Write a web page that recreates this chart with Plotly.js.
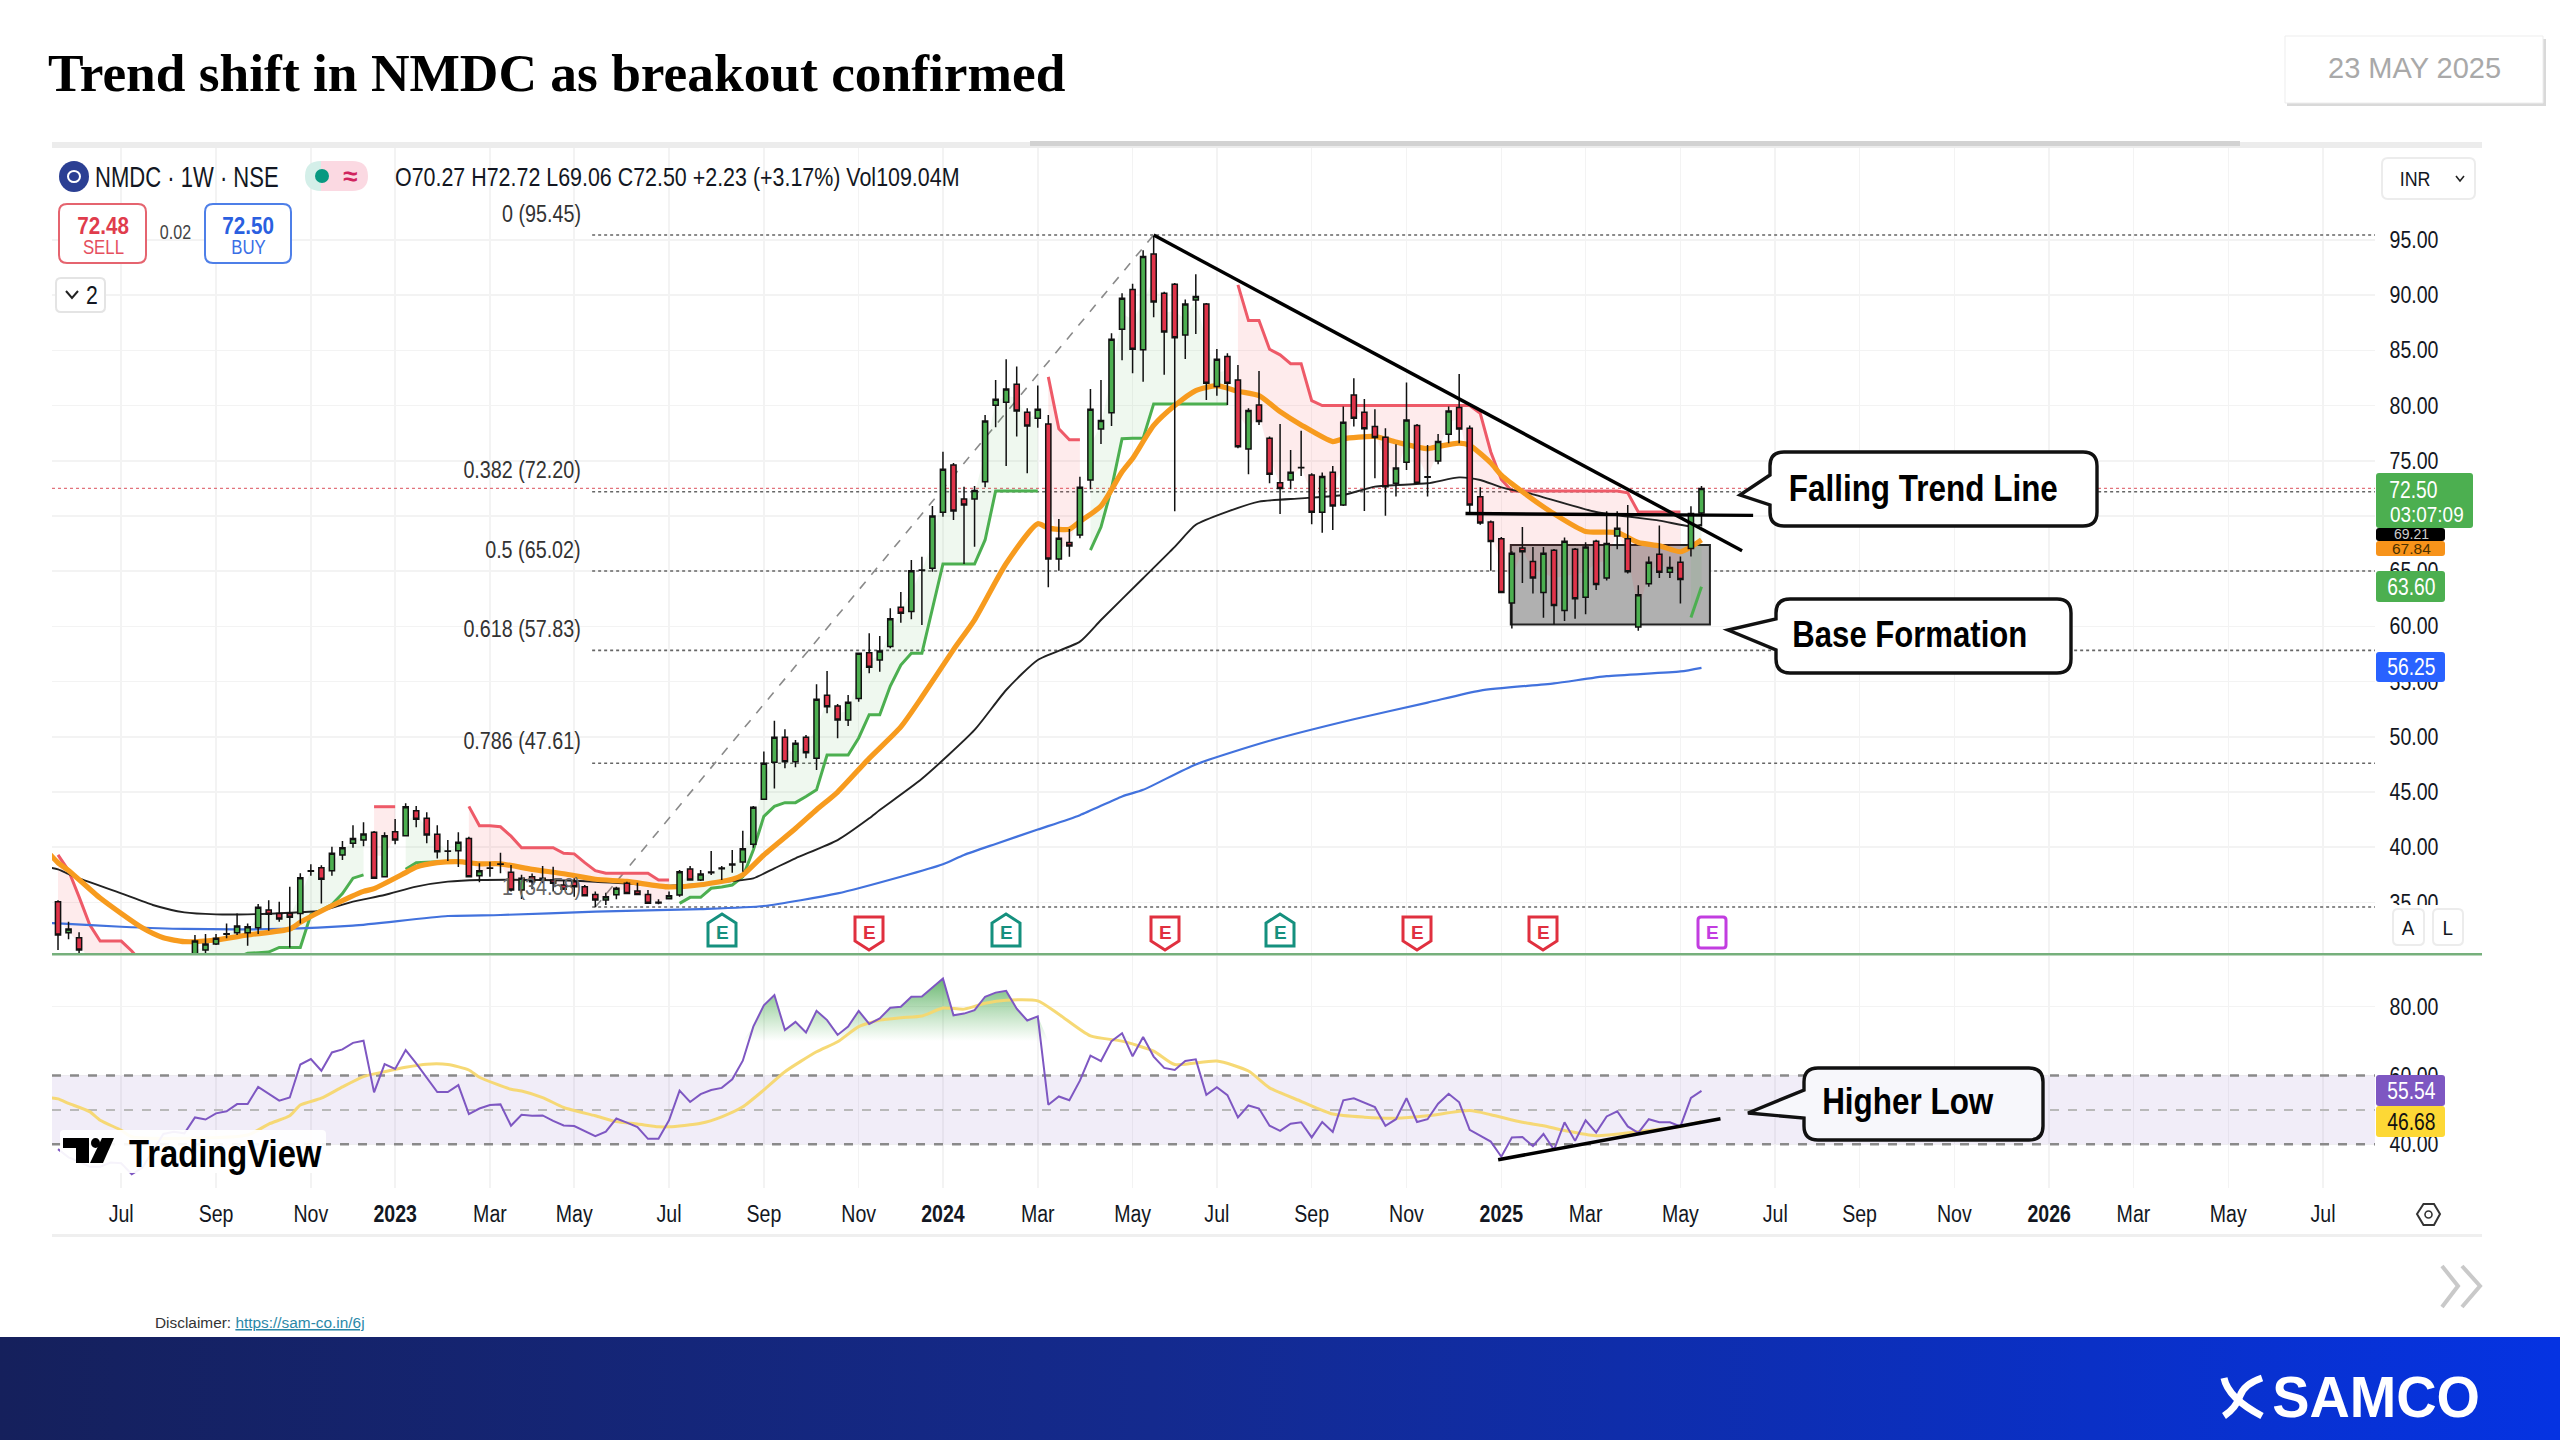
<!DOCTYPE html>
<html><head><meta charset="utf-8">
<script src="https://cdn.plot.ly/plotly-3.0.1.min.js"></script>
<style>
html,body{margin:0;padding:0;background:#fff;width:2560px;height:1440px;overflow:hidden}
#banner{position:absolute;left:0;top:1337px;width:2560px;height:103px;background:linear-gradient(90deg,#15205c 0%,#142a8e 45%,#0533e2 100%)}
#chart{position:absolute;left:0;top:0;width:2560px;height:1440px}
</style></head><body>
<div id="banner"></div><div id="chart"></div>
<script>
// ---------- weekly bars (first bar = week of 2022-05-23) ----------
const firstWeek = '2022-05-23';
const opens = [35.07,32.26,31.81,30.0,29.4,28.9,28.4,28.9,29.2,29.6,29.0,29.5,29.3,29.9,30.69,31.24,32.11,32.26,32.26,32.71,34.31,34.0,34.0,34.0,37.82,38.15,37.88,39.3,40.35,40.65,41.35,37.33,41.41,41.05,43.31,42.62,41.17,39.63,39.69,40.8,37.42,38.09,38.45,37.73,36.13,37.33,37.18,37.03,36.58,36.88,36.43,35.73,35.22,35.70,36.73,36.04,35.73,35.01,35.34,35.67,38.03,37.03,37.76,38.06,38.39,38.66,40.26,44.34,47.69,49.95,47.75,49.95,48.05,53.76,52.79,51.52,53.48,57.62,56.96,58.17,61.73,61.34,65.09,65.26,70.33,74.62,71.54,71.54,73.11,80.03,80.3,81.93,79.39,78.85,78.34,66.11,67.59,68.28,73.26,77.88,79.36,86.92,90.51,85.05,93.72,90.17,90.99,86.4,89.57,89.2,81.72,84.44,82.32,76.07,80.06,77.04,73.02,73.27,74.37,73.72,70.34,73.96,71.0,80.96,79.39,78.1,77.13,72.96,74.87,78.19,73.5,74.99,77.4,79.82,77.94,71.75,69.45,67.93,62.12,67.1,65.89,63.07,66.89,61.43,66.98,62.64,67.71,64.38,68.19,67.93,59.95,63.86,66.54,64.9,65.81,67.06,70.27];
const highs = [35.2,33.26,32.29,30.2,30.0,29.6,29.2,29.8,30.0,30.1,29.9,30.1,30.0,32.05,32.14,32.14,33.1,34.0,33.1,34.86,35.2,35.07,36.43,37.64,38.45,38.36,40.05,40.56,42.0,42.26,41.47,41.35,42.56,43.98,43.74,43.16,42.0,40.65,41.35,40.96,38.54,38.69,39.5,38.39,37.5,37.63,38.3,38.24,37.03,37.18,36.58,35.98,35.88,36.43,36.88,36.79,36.13,35.28,35.98,37.94,38.3,37.94,39.66,38.3,39.75,41.5,43.74,48.66,51.46,50.68,49.71,50.17,54.75,55.96,52.97,53.79,57.62,59.37,59.13,61.64,63.12,66.02,66.32,70.91,75.83,74.8,72.66,72.72,79.15,82.32,84.19,83.53,79.75,81.81,79.15,69.73,68.82,73.56,81.51,82.32,86.55,90.17,91.03,94.07,95.37,90.3,91.1,89.6,91.89,89.3,85.13,84.74,83.68,79.76,83.14,77.19,78.34,75.98,77.73,73.87,73.93,74.53,79.91,82.47,80.6,79.67,77.94,76.5,82.08,78.34,76.43,77.43,79.91,82.87,78.19,72.6,69.6,68.1,66.8,69.0,67.2,67.2,67.0,68.06,67.1,67.63,67.84,70.44,70.44,71.0,63.73,66.33,69.14,66.33,66.33,70.88,72.72];
const lows = [30.69,31.66,30.4,29.0,28.6,28.0,27.6,28.4,28.7,28.8,28.5,29.0,28.9,29.7,30.39,31.14,31.75,32.05,31.08,32.14,32.44,33.26,30.93,33.1,37.42,34.9,37.42,38.84,39.96,40.1,37.18,37.33,40.26,41.05,41.8,40.35,38.99,38.75,38.2,37.33,36.82,37.33,37.64,35.98,35.31,36.2,36.73,35.98,36.13,35.52,35.61,34.56,34.77,35.28,35.76,35.67,34.92,34.83,35.28,35.52,36.97,36.94,37.48,37.03,37.7,37.79,39.96,44.28,45.33,47.15,47.24,48.05,47.0,52.13,49.86,50.98,53.18,55.75,55.9,58.02,60.34,60.64,60.13,64.96,69.94,69.64,65.65,67.22,72.6,78.03,74.53,77.19,73.87,78.0,63.54,65.05,66.32,67.98,72.42,76.52,78.15,84.1,82.93,82.15,88.0,82.8,70.44,84.23,86.49,80.51,80.9,80.06,76.13,73.78,78.25,72.96,70.18,72.42,73.63,69.25,68.49,68.74,70.9,78.1,70.46,73.42,70.03,71.76,74.17,72.9,71.76,74.68,76.59,76.59,70.18,69.2,65.03,63.0,59.82,63.94,62.99,60.78,60.17,60.48,60.69,61.1,63.29,64.16,66.98,64.8,59.61,63.6,64.38,64.38,62.08,66.33,69.06];
const closes = [32.05,32.59,30.69,29.4,28.9,28.4,28.9,29.2,29.6,29.0,29.5,29.3,29.8,31.5,31.24,31.75,32.17,32.87,32.8,34.56,33.92,33.5,33.65,37.24,37.88,37.09,39.45,39.96,40.8,41.2,37.18,41.05,40.65,43.67,42.53,41.11,39.6,39.66,40.44,37.33,37.88,38.12,38.47,36.13,37.18,36.88,37.03,36.73,36.19,36.43,35.61,35.22,35.52,36.28,35.82,35.73,34.92,34.95,35.61,37.79,37.03,37.58,37.70,38.12,38.48,39.87,43.61,47.6,49.95,47.75,49.41,48.56,53.4,52.73,51.52,53.12,57.56,56.29,57.77,60.7,61.19,65.05,65.12,70.0,74.23,70.45,71.0,72.3,78.6,80.57,81.5,79.51,78.15,79.66,66.11,67.98,67.29,72.6,79.66,78.64,86.0,89.73,85.1,93.5,89.39,86.66,86.14,89.2,89.87,82.02,84.19,82.02,76.28,79.55,78.55,73.78,72.48,73.96,74.4,70.34,73.57,70.91,78.49,78.85,77.91,77.1,72.66,74.35,78.7,72.96,73.55,76.74,79.51,77.88,71.0,69.36,67.7,63.07,66.63,66.76,64.38,66.63,61.9,67.71,62.5,67.2,63.8,67.5,68.88,64.94,62.86,65.81,64.9,65.33,64.25,70.23,72.50];

// ---------- moving averages: bar number, value ----------
const ema20Bars = [-1,0,1,4,8,10,12,15,18,22,23,26,29,30,33,34,36,38,40,42,45,48,51,54,58,61,64,65,67,70,72,74,77,80,82,85,87,90,93,94,96,97,99,101,102,104,106,108,110,112,114,116,118,121,122,125,127,130,131,133,134,136,137,139,142,145,148,150,152,154,155,156];
const ema20Vals = [39.6,38.6,37.9,35.4,32.7,31.8,31.45,31.6,32.05,32.6,33.2,34.7,36.0,36.25,37.7,38.2,38.6,38.7,38.5,38.5,38.0,37.6,37.1,36.9,36.4,36.6,37.1,37.5,39.3,41.7,43.4,45.0,48.05,50.9,53.6,57.9,60.6,65.7,69.3,68.9,68.8,69.5,70.9,74.0,75.2,78.2,80.0,81.36,81.8,81.3,80.9,79.45,78.25,76.74,77.0,77.2,76.7,76.1,76.3,76.6,76.4,74.8,73.7,72.2,70.2,68.6,68.5,67.6,67.3,66.76,67.2,67.84];
const ema50Bars = [-1,0,1,2,6,9,12,15,18,22,25,28,31,34,37,40,46,51,58,64,66,68,70,74,77,78,82,87,90,93,97,99,103,106,108,111,114,118,122,125,130,133,135,137,140,146,152,155,156];
const ema50Vals = [38.2,38.0,37.58,37.18,35.82,34.77,34.1,33.92,33.92,34.07,34.25,35.07,35.67,36.43,36.88,37.03,37.03,36.88,36.52,36.94,37.18,38.09,39.0,40.65,42.62,43.37,46.2,50.62,54.24,56.96,58.62,60.58,64.36,67.2,69.2,70.39,71.3,71.6,71.9,72.66,72.96,73.5,73.26,72.6,71.96,70.36,69.58,69.06,69.21];
const ema200Bars = [-1,0,6,12,21,28,37,42,51,61,67,74,80,84,86,89,93,97,101,103,108,115,123,130,135,142,147,154,156];
const ema200Vals = [33.15,33.1,32.8,32.6,32.6,32.9,33.77,33.86,34.16,34.4,34.68,35.82,37.33,38.46,39.3,40.3,41.6,42.9,44.6,45.2,47.5,49.64,51.59,53.1,54.19,54.84,55.49,55.92,56.25];

// ---------- supertrend runs: first bar, values ----------
const stRedStarts = [0,30,39,94,112];
const stRed = [
 [39.3,37.9,35.5,33,31.5,31.5,31.5,30.6,29.5,29.4,29.3,29.2,29.1],
 [43.67,43.67,43.67],
 [43.7,41.95,41.95,41.85,41,39.96,39.96,39.96,39.96,39.45,39.4,38.6,37.88,37.64,37.64,37.64,37.64,37.64,37.03,37.03],
 [82.6,77.9,76.9,76.9],
 [90.93,87.7,87.7,85.1,84.6,83.8,83.8,80.45,80,80,80,80,80,80,80,80,80,80,80,80,80,80,80,79.3,75.8,73.3,72.27,72.27,72.27,72.27,72.27,72.27,72.27,72.27,72.27,72.27,72.27,72.1,70.36,70.36,70.36,70.36,70.36]
];
const stGreenStarts = [13,33,59,98,155];
const stGreen = [
 [29,29,29.2,29.6,30,30.4,30.45,30.5,30.93,30.93,30.93,33.9,34.3,34.8,35.8,37.2,37.5],
 [38,38.6,38.65,38.7,38.7,38.7],
 [34.92,35.46,35.46,36.28,36.4,36.58,37.33,39.75,42.8,43.7,44.04,44.04,44.6,45.2,48.35,48.35,48.35,49.9,52,52,54.6,56.5,57.56,57.56,61.5,65.65,65.65,65.65,65.65,67.83,72.27,72.27,72.27,72.27,72.27],
 [66.9,69,72.5,77,77.04,77.04,80.15,80.15,80.15,80.15,80.15,80.15,80.15,80.15],
 [60.8,63.6]
];

// ---------- RSI ----------
const rsi = [38.6,36.2,35,33.5,33.5,34.7,34.5,31.3,33.2,38,43,43.66,43.2,47.8,47.2,49,49.6,51.7,51.7,56.7,54.7,52.7,53.6,63.2,64.8,61.4,66.7,67.6,69.5,70.1,55.1,63.3,61.9,67.4,63.5,59.5,55.2,55.2,57.2,48.8,50.4,51.4,51.6,45.4,48.6,48.3,48.4,46.8,45.5,45.3,43.8,42.4,43.7,47.5,46.3,45,41.6,41.6,47,55.6,52.3,54.6,55.8,56.4,58.9,64.3,74.2,80.4,83.4,73.2,75.6,72.5,78.8,76.1,71.8,74.2,78.8,75,76.6,79.7,80,82.9,83,85.5,88.2,77.5,78,79,82.9,84.1,84.6,79.4,76,77.2,51.5,53.9,52.8,58.5,65.8,64.2,70,72.3,65.6,71.2,65.5,62.2,61.6,64.2,64.7,54.4,56.6,54.3,47.8,51.3,50.4,45.4,43.9,46,46.4,42,46.5,43.6,52.8,53.4,52,50.8,45.4,47.3,53.4,46.5,47.3,51.8,54.7,52.2,44.2,42.5,40.8,36.4,42,42.1,39.5,43,38.4,46.4,41,47,43.4,48.1,49.6,45.2,43.3,47.3,46.4,46.4,45.2,53.5,55.54];
const rsiMaBars = [-1,0,1,3,4,6,7,18,20,22,23,25,27,29,31,33,35,37,39,40,43,44,46,48,51,53,55,57,58,61,63,65,67,69,72,74,76,78,80,82,84,86,88,90,93,95,98,101,104,106,110,113,115,118,121,124,127,130,134,136,139,141,143,146,150,154,156];
const rsiMaVals = [53.6,53.2,51.9,49.5,47,44.1,42.2,42.7,45.9,48.3,51.4,53.4,56.7,59.7,61.1,62.4,63.3,63.2,61.6,59.5,56,55.5,53.6,50.7,48.3,46.6,45.9,45.1,45.1,46.1,48,50.9,55.8,61.1,66.9,69.8,74.2,76.1,76.8,77.3,79.6,79.3,81,81.9,81.7,77.8,71.5,70,67.1,63.2,64.2,61.3,56.4,52.5,48.8,47.9,47.6,48.3,49.8,48.6,46.4,45.4,44,42.5,43.7,45.2,46.68];

// ---------- axis labels ----------
const tickBars = [6,15,24,32,41,49,58,67,76,84,93,102,110,119,128,137,145,154,163,171,180,189,197,206,215];
const tickNames = ['Jul','Sep','Nov','<b>2023</b>','Mar','May','Jul','Sep','Nov','<b>2024</b>','Mar','May','Jul','Sep','Nov','<b>2025</b>','Mar','May','Jul','Sep','Nov','<b>2026</b>','Mar','May','Jul'];
const priceTicks = [35,40,45,50,55,60,65,70,75,80,85,90,95];
const priceTickHidden = [70];
const rsiTicks = [40,60,80];

// ---------- drawing levels ----------
const fibLevels = [95.45,72.20,65.02,57.83,47.61,34.58];
const fibNames = ['0 (95.45)','0.382 (72.20)','0.5 (65.02)','0.618 (57.83)','0.786 (47.61)','1 (34.58)'];
const fibLabelY = [214,470,550,629,741,887];
const lastPrice = 72.50;
const trendBars = [104,159.85], trendVals = [95.44,66.86];
const flatBars = [133.6,160.9], flatVals = [70.22,70.06];
const boxBars = [137.9,156.8], boxVals = [60.18,67.37];
const fibDiagBars = [51,104], fibDiagVals = [34.58,95.45];
const rsiLineBars = [136.7,157.8], rsiLineVals = [35.5,47.4];

// ---------- helpers ----------
const W=2560,H=1440,END=219.93;
const FN='"Liberation Sans",Arial,sans-serif';
const DAY=86400000, T0=Date.parse(firstWeek+'T00:00:00Z');
const D=i=>new Date(T0+i*7*DAY).toISOString().slice(0,19).replace('T',' ');
const dates=opens.map((_,i)=>D(i));
const fx=x=>x/W, fy=y=>1-y/H;
const P=(...a)=>{let s='';for(const c of a){if(typeof c==='string')s+=c+' ';else s+=fx(c[0])+' '+fy(c[1])+' ';}return s;};
const shapes=[],ann=[],squeeze=[];
function rrectPath(x0,y0,x1,y1,r){return P('M',[x0+r,y0],'L',[x1-r,y0],'Q',[x1,y0],[x1,y0+r],'L',[x1,y1-r],'Q',[x1,y1],[x1-r,y1],'L',[x0+r,y1],'Q',[x0,y1],[x0,y1-r],'L',[x0,y0+r],'Q',[x0,y0],[x0+r,y0],'Z');}
function path(d,fill,color,width,layer){shapes.push({type:'path',xref:'paper',yref:'paper',path:d,fillcolor:fill,line:{color:color||'rgba(0,0,0,0)',width:width||0},layer:layer||'above'});}
function rect(x0,y0,x1,y1,fill,color,width,r){path(rrectPath(x0,y0,x1,y1,r||0.01),fill,color,width);}
function text(t,x,y,size,color,o){o=o||{};const xa=o.xa||'center';
  ann.push({text:t,x:fx(x),y:fy(y),xref:'paper',yref:'paper',showarrow:false,xanchor:xa,align:xa,yanchor:'middle',font:{family:o.font||FN,size,color,weight:o.bold?'bold':'normal'},borderpad:0,borderwidth:0});
  squeeze.push(o.s||1);}
function dline(b0,v0,b1,v1,color,width,dash,layer,yref,xref){shapes.push({type:'line',xref:xref||'x',yref:yref||'y',x0:D(b0),x1:D(b1),y0:v0,y1:v1,line:{color,width,dash:dash||'solid'},layer:layer||'above'});}
function circle(x0,y0,x1,y1,fill,lc,lw){shapes.push({type:'circle',xref:'paper',yref:'paper',x0:fx(x0),x1:fx(x1),y0:fy(y1),y1:fy(y0),fillcolor:fill,line:{color:lc||'rgba(0,0,0,0)',width:lw||0},layer:'above'});}

// page frame
rect(52,142,2482,148,'#ececec');
rect(1030,141,2240,146,'#d2d2d2');
rect(52,1234,2482,1237,'#efefef');
rect(52,953,2482,955.5,'#76b07c');

// title and date box
text('Trend shift in NMDC as breakout confirmed',48,73,53.4,'#000',{xa:'left',bold:true,font:'"Liberation Serif","Times New Roman",serif'});
rect(2287,39,2546,106,'#d9d9d9');
rect(2285,36,2543,103,'#ffffff','#ededed',1);
text('23 MAY 2025',2414,68,29,'#a9a9a9');

// header
circle(59,161,89,192,'#2b3f93');
circle(68,171,80,182,'rgba(0,0,0,0)','#fff',2);
text('NMDC · 1W · NSE',95,177,29,'#131722',{xa:'left',s:0.76});
path(P('M',[321,161],'L',[321,191],'Q',[305,191],[305,176],'Q',[305,161],[321,161],'Z'),'#d4efe9');
path(P('M',[321,161],'L',[352,161],'Q',[368,161],[368,176],'Q',[368,191],[352,191],'L',[321,191],'Z'),'#fbd9e2');
circle(315,169,329,183,'#089981');
text('≈',350,176,26,'#d0245e',{bold:true});
text('O70.27 H72.72 L69.06 C72.50 +2.23 (+3.17%) Vol109.04M',395,177,25.5,'#131722',{xa:'left',s:0.84});
rect(59,204,146,263,'#fff','#e5646f',2,8);
text('72.48',103,225,24,'#e03c4c',{bold:true,s:0.86});
text('SELL',103,247,20,'#e5505e',{s:0.84});
text('0.02',175,232,20,'#444',{s:0.8});
rect(205,204,291,263,'#fff','#4e7fe8',2,8);
text('72.50',248,225,24,'#2a5fe0',{bold:true,s:0.86});
text('BUY',248,247,20,'#3a6fe6',{s:0.84});
rect(56,278,105,312,'#fff','#e4e4e4',2,5);
path(P('M',[66,291],'L',[72,298],'L',[78,291]),'rgba(0,0,0,0)','#222',2);
text('2',92,295,25,'#131722',{s:0.85});
rect(2382,158,2475,199,'#fff','#ececec',2,6);
text('INR',2415,178,21,'#131722',{s:0.85});
path(P('M',[2456,176],'L',[2460,181],'L',[2464,176]),'rgba(0,0,0,0)','#222',1.6);

// fib
fibLevels.forEach((v,k)=>{dline(50.7,v,END,v,'#666',1.6,'dot','between');text(fibNames[k],581,fibLabelY[k],23.5,k==5?'#666':'#333',{xa:'right',s:0.84});});
dline(-0.57,lastPrice,END,lastPrice,'#e2737c',1.3,'dot','between');
dline(fibDiagBars[0],fibDiagVals[0],fibDiagBars[1],fibDiagVals[1],'#8a8a8a',1.6,'dash','between');

// base box, trend lines
shapes.push({type:'rect',xref:'x',yref:'y',x0:D(boxBars[0]),x1:D(boxBars[1]),y0:boxVals[0],y1:boxVals[1],fillcolor:'#b0b0b0',line:{color:'#222',width:2},layer:'between'});
dline(trendBars[0],trendVals[0],trendBars[1],trendVals[1],'#000',3.4);
dline(flatBars[0],flatVals[0],flatBars[1],flatVals[1],'#000',3.4);
dline(rsiLineBars[0],rsiLineVals[0],rsiLineBars[1],rsiLineVals[1],'#000',3.6,'solid','above','y2','x2');

// RSI band
shapes.push({type:'rect',xref:'x2',yref:'y2',x0:D(-0.57),x1:D(END),y0:40,y1:60,fillcolor:'rgba(126,87,194,0.11)',line:{width:0},layer:'between'});
[[60,'#8a8a8a',2.4],[50,'#b9b9b9',2],[40,'#8a8a8a',2.4]].forEach(l=>dline(-0.57,l[0],END,l[0],l[1],l[2],'dash','between','y2','x2'));

// earnings markers
const earnColor=['#15907e','#e0303f','#15907e','#e0303f','#15907e','#e0303f','#e0303f','#c23de0'];
const earnKind=['up','dn','up','dn','up','dn','dn','sq'];
const earnPx=[722,869,1006,1165,1280,1417,1543,1712];
earnPx.forEach((x,k)=>{
  const c=earnColor[k],a=x-14,b=x+14;
  if(earnKind[k]==='up') path(P('M',[x,914],'L',[b,923],'L',[b,946],'L',[a,946],'L',[a,923],'Z'),'#fff',c,3);
  else if(earnKind[k]==='dn') path(P('M',[a,917],'L',[b,917],'L',[b,941],'L',[x,950],'L',[a,941],'Z'),'#fff',c,3);
  else rect(a,917,b,948,'#fff',c,3,3);
  text('E',x,932,19,c,{bold:true});
});

// right-side covers and price tags
rect(2377,905,2482,952,'#fff');
rect(2393,909,2424,945,'#fff','#ececec',2,5);text('A',2408,927,21,'#131722',{s:0.9});
rect(2433,909,2463,945,'#fff','#ececec',2,5);text('L',2448,927,21,'#131722',{s:0.9});
function tag(x1,y0,y1,fill){rect(2376,y0,x1,y1,fill,null,0,3);}
tag(2445,528,541,'#000000');text('69.21',2411,534,14,'#ccc',{s:1});
tag(2445,541,556,'#f7931a');text('67.84',2411,548.5,15.5,'#4a3000',{s:1});
tag(2473,473,528,'#4caf50');text('72.50',2413,490,23.5,'#fff',{s:0.82});text('03:07:09',2427,514,22,'#fff',{s:0.86});
tag(2445,571,602,'#4caf50');text('63.60',2411,587,23.5,'#fff',{s:0.82});
tag(2445,652,682,'#2962ff');text('56.25',2411,667,23.5,'#fff',{s:0.82});
tag(2445,1075,1106,'#7e57c2');text('55.54',2411,1091,23.5,'#fff',{s:0.82});
tag(2445,1106,1137,'#fdd835');text('46.68',2411,1122,23.5,'#111',{s:0.82});

// callouts
function callout(x0,y0,x1,y1,tx,ty,b0,b1,fill){
  const r=14;
  path(P('M',[x0+r,y0],'L',[x1-r,y0],'Q',[x1,y0],[x1,y0+r],'L',[x1,y1-r],'Q',[x1,y1],[x1-r,y1],'L',[x0+r,y1],'Q',[x0,y1],[x0,y1-r],'L',[x0,b1],'L',[tx,ty],'L',[x0,b0],'L',[x0,y0+r],'Q',[x0,y0],[x0+r,y0],'Z'),fill||'#fff','#111',3.4);
}
callout(1770,452,2097,526,1740,495,475,505);
text('Falling Trend Line',1923,488,37,'#000',{bold:true,s:0.85});
callout(1776,599,2071,673,1728,630,619,650);
text('Base Formation',1910,634,37,'#000',{bold:true,s:0.84});
callout(1804,1068,2043,1140,1748,1113,1090,1118,'#f7f7fb');
text('Higher Low',1908,1101,37,'#000',{bold:true,s:0.85});

// TradingView logo
rect(60,1130,326,1173,'rgba(255,255,255,0.93)',null,0,4);
path(P('M',[63,1138],'L',[89,1138],'L',[89,1163],'L',[76,1163],'L',[76,1148],'L',[63,1148],'Z'),'#000');
circle(91,1138,100,1148,'#000');
path(P('M',[102,1138],'L',[114,1138],'L',[103,1163],'L',[90,1163],'Z'),'#000');
text('TradingView',129,1153,39,'#000',{xa:'left',bold:true,s:0.84});
path(P('M',[2417,1214],'L',[2423.5,1204],'L',[2434,1204],'L',[2440,1214],'L',[2434,1225],'L',[2423.5,1225],'Z'),'rgba(0,0,0,0)','#333',2);
circle(2425,1211,2432,1218,'rgba(0,0,0,0)','#333',1.6);

// footer
text('Disclaimer: <span style="color:#2a88a8"><u>https://sam-co.in/6j</u></span>',155,1322,15.4,'#333',{xa:'left'});
path(P('M',[2442,1266],'L',[2458,1286],'L',[2442,1307]),'rgba(0,0,0,0)','#c9c9c9',4);
path(P('M',[2462,1266],'L',[2480,1286],'L',[2462,1307]),'rgba(0,0,0,0)','#c9c9c9',4);
text('SAMCO',2376,1397,57,'#fff',{bold:true,s:0.98});
path(P('M',[2224,1378],'Q',[2228,1398],[2262,1416]),'rgba(0,0,0,0)','#fff',7);
path(P('M',[2262,1378],'Q',[2244,1384],[2240,1396],'Q',[2236,1408],[2224,1416]),'rgba(0,0,0,0)','#fff',7);

// ---------- traces ----------
const traces=[];
const body=i=>(opens[i]+closes[i])/2;
function stTraces(starts,runs,lineC,fillC){
  runs.forEach((vals,k)=>{
    const ix=vals.map((_,j)=>starts[k]+j);
    traces.push({type:'scatter',mode:'lines',x:ix.map(D),y:ix.map(body),line:{width:0},hoverinfo:'skip',xaxis:'x',yaxis:'y'});
    traces.push({type:'scatter',mode:'lines',x:ix.map(D),y:vals,line:{color:lineC,width:3},fill:'tonexty',fillcolor:fillC,hoverinfo:'skip',xaxis:'x',yaxis:'y'});
  });
}
stTraces(stRedStarts,stRed,'#ee5a68','rgba(242,54,69,0.10)');
stTraces(stGreenStarts,stGreen,'#4caf50','rgba(76,175,80,0.09)');
const lineT=(b,v,color,width,ax,smooth)=>({type:'scatter',mode:'lines',x:b.map(D),y:v,line:{color,width,shape:smooth?'spline':'linear',smoothing:0.6},hoverinfo:'skip',xaxis:ax?'x2':'x',yaxis:ax?'y2':'y'});
traces.push(lineT(ema200Bars,ema200Vals,'#4272dd',2.2,false,true));
traces.push(lineT(ema50Bars,ema50Vals,'#222222',1.9,false,true));
traces.push(lineT(ema20Bars,ema20Vals,'#f79b1e',5.2,false,true));
traces.push({type:'candlestick',x:dates,open:opens,high:highs,low:lows,close:closes,xaxis:'x',yaxis:'y3',
  increasing:{line:{color:'#111',width:1.5},fillcolor:'#4caf50'},
  decreasing:{line:{color:'#111',width:1.5},fillcolor:'#e0344a'},
  width:7*DAY*0.62,whiskerwidth:0,hoverinfo:'skip'});

// RSI
const rsiTop=rsi.map(v=>Math.max(v,70));
traces.push({type:'scatter',mode:'lines',x:dates,y:rsi.map(()=>70),line:{width:0},hoverinfo:'skip',xaxis:'x2',yaxis:'y2'});
traces.push({type:'scatter',mode:'lines',x:dates,y:rsiTop,line:{width:0},fill:'tonexty',
  fillgradient:{type:'vertical',start:70,stop:88,colorscale:[[0,'rgba(76,175,80,0)'],[1,'rgba(60,160,70,0.75)']]},
  hoverinfo:'skip',xaxis:'x2',yaxis:'y2'});
traces.push(lineT(rsiMaBars,rsiMaVals,'rgba(245,215,110,0.95)',3,true,true));
traces.push(lineT(dates.map((_,i)=>i),rsi,'#7e57c2',2,true));

const xa0=fx(52),xa1=fx(2375);
const grid='#f3f3f3';
const layout={
  width:W,height:H,margin:{l:0,r:0,t:0,b:0,pad:0},autosize:false,
  paper_bgcolor:'rgba(0,0,0,0)',plot_bgcolor:'rgba(0,0,0,0)',showlegend:false,
  xaxis:{domain:[xa0,xa1],anchor:'y',type:'date',range:[D(-0.57),D(END)],rangeslider:{visible:false},
    tickmode:'array',tickvals:tickBars.map(D),ticktext:tickNames,showticklabels:false,ticks:'',showgrid:true,gridcolor:grid,gridwidth:1.5,zeroline:false,showline:false,fixedrange:true},
  xaxis2:{domain:[xa0,xa1],anchor:'y2',matches:'x',type:'date',range:[D(-0.57),D(END)],rangeslider:{visible:false},
    tickmode:'array',tickvals:tickBars.map(D),ticktext:tickNames,showticklabels:true,ticks:'outside',ticklen:5,tickcolor:'rgba(0,0,0,0)',
    tickfont:{family:FN,size:23,color:'#131722'},tickangle:0,showgrid:true,gridcolor:grid,gridwidth:1.5,zeroline:false,showline:false,fixedrange:true},
  yaxis:{domain:[fy(954),fy(147)],anchor:'x',side:'right',range:[30.33,103.42],tickmode:'array',tickvals:priceTicks,
    ticktext:priceTicks.map(v=>priceTickHidden.includes(v)?'':v.toFixed(2)),
    ticks:'outside',ticklen:9,tickcolor:'rgba(0,0,0,0)',tickfont:{family:FN,size:23,color:'#131722'},showgrid:true,gridcolor:grid,gridwidth:1.5,zeroline:false,showline:false,fixedrange:true},
  yaxis2:{domain:[fy(1188),fy(956)],anchor:'x2',side:'right',range:[27.3,94.74],tickmode:'array',tickvals:rsiTicks,ticktext:rsiTicks.map(v=>v.toFixed(2)),
    ticks:'outside',ticklen:9,tickcolor:'rgba(0,0,0,0)',tickfont:{family:FN,size:23,color:'#131722'},showgrid:true,gridcolor:grid,gridwidth:1.5,zeroline:false,showline:false,fixedrange:true},
  yaxis3:{overlaying:'y',anchor:'x',side:'right',range:[30.33,103.42],visible:false,fixedrange:true},
  shapes,annotations:ann
};
function condense(t,f){if(f===1)return;const L=t.getComputedTextLength();if(L>0){t.setAttribute('textLength',(L*f).toFixed(1));t.setAttribute('lengthAdjust','spacingAndGlyphs');}}
Plotly.newPlot('chart',traces,layout,{displayModeBar:false,staticPlot:true,responsive:false}).then(gd=>{
  gd.querySelectorAll('.xtick text,.ytick text,.y2tick text,.x2tick text').forEach(t=>condense(t,0.85));
  gd.querySelectorAll('.annotation').forEach(g=>{
    const k=+g.getAttribute('data-index');const t=g.querySelector('text');
    if(t&&squeeze[k])condense(t,squeeze[k]);
  });
});
</script>
</body></html>
